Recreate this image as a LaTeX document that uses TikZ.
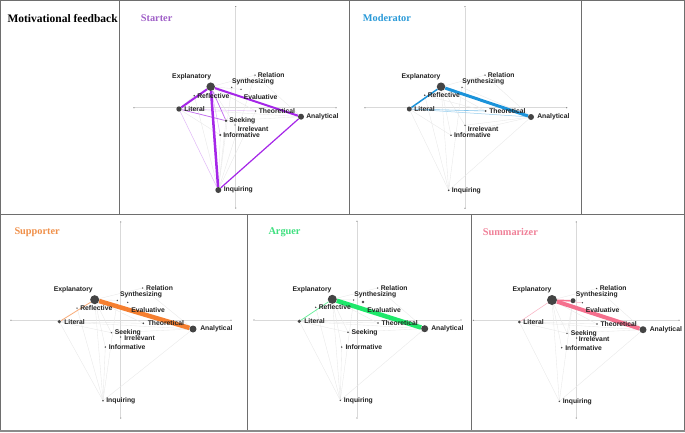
\documentclass[tikz,border=0pt]{standalone}
\usepackage{fontspec}
\setmainfont{Liberation Serif}
\newfontfamily\lblfont{Liberation Sans}
\pgfdeclarelayer{bg}
\pgfdeclarelayer{paper}
\pgfsetlayers{paper,bg,main}
\definecolor{ndark}{HTML}{444444}
\definecolor{ltext}{HTML}{222222}
\definecolor{cstart}{HTML}{A526E8}
\definecolor{tstart}{HTML}{A060C8}
\definecolor{cmod}{HTML}{1B93DA}
\definecolor{tmod}{HTML}{2A9AD8}
\definecolor{csup}{HTML}{F57F30}
\definecolor{tsup}{HTML}{F0904A}
\definecolor{carg}{HTML}{1EE86A}
\definecolor{targ}{HTML}{40E080}
\definecolor{csum}{HTML}{F5708E}
\definecolor{tsum}{HTML}{F08098}
\definecolor{framec}{HTML}{6E6E6E}
\tikzset{
 gdot/.style={circle, fill=ndark, inner sep=0pt, minimum size=#1},
 gdot/.default=2pt,
 lbl/.style={font=\lblfont\bfseries\fontsize{6.8}{8}\selectfont, text=ltext, inner sep=0.6pt, anchor=west},
 clbl/.style={lbl, anchor=center},
 faint/.style={draw=gray!18, line width=0.35pt},
 axisln/.style={draw=gray!30, line width=0.5pt},
 tickdot/.style={circle, fill=gray!80!black, inner sep=0pt, minimum size=1.2pt},
 ptitle/.style={font=\bfseries\fontsize{10.3}{12}\selectfont, anchor=west, inner sep=0pt},
 frameln/.style={draw=framec, line width=0.9pt},
}
\begin{document}
\begin{tikzpicture}[x=1pt,y=-1pt]
\useasboundingbox (0,0) rectangle (685,432);
\begin{pgfonlayer}{paper}
\fill[white] (0,0) rectangle (685,432);
\end{pgfonlayer}
% frames
\draw[frameln] (0.5,0.5) rectangle (684,214);
\draw[frameln] (119,0.5) -- (119,214);
\draw[frameln] (349.5,0.5) -- (349.5,214);
\draw[frameln] (581,0.5) -- (581,214);
\draw[frameln] (0.5,214) rectangle (684,430);
\draw[frameln] (247,214) -- (247,430);
\draw[frameln] (471,214) -- (471,430);
\draw[draw=framec!80, line width=2pt] (0,431) -- (685,431);
% titles
\node[anchor=west, inner sep=0pt, font=\bfseries\fontsize{11.5}{13}\selectfont] (mtitle) at (7.3,18.3) {Motivational feedback};
\node[ptitle, text=tstart] (ttl-a) at (140.7,18.3) {Starter};
\node[ptitle, text=tmod] (ttl-b) at (362.7,18.3) {Moderator};
\node[ptitle, text=tsup] (ttl-c) at (14.3,232) {Supporter};
\node[ptitle, text=targ] (ttl-d) at (268.3,232) {Arguer};
\node[ptitle, text=tsum] (ttl-e) at (482.7,232) {Summarizer};

% ================= Starter =================
\node[tickdot] (a-t) at (235.7,6.7) {};
\node[tickdot] (a-b) at (235.7,208) {};
\node[tickdot] (a-l) at (134,107.7) {};
\node[tickdot] (a-r) at (336,107.7) {};
\node[gdot=8.5pt] (a-Exp) at (210.7,86.7) {};
\node[gdot=5.4pt] (a-Lit) at (179,109) {};
\node[gdot=6pt] (a-Ana) at (301,116.7) {};
\node[gdot=6pt] (a-Inq) at (218.3,190) {};
\node[gdot=2.6pt] (a-See) at (226,120.7) {};
\node[gdot=2.2pt] (a-Inf) at (220.3,135) {};
\node[gdot=1.4pt] (a-Irr) at (235,125) {};
\node[gdot=1.8pt] (a-Ref) at (194.3,95.7) {};
\node[gdot=1.5pt] (a-Syn) at (231.7,87.3) {};
\node[gdot=1.5pt] (a-Eva) at (241,89.3) {};
\node[gdot=1.5pt] (a-Rel) at (255,75.2) {};
\node[gdot=1.5pt] (a-The) at (255.7,111) {};
\node[clbl] (a-Exp-l) at (191.7,76.3) {Explanatory};
\node[lbl] (a-Lit-l) at (183.5,109) {Literal};
\node[lbl] (a-Ana-l) at (305.5,116.7) {Analytical};
\node[lbl] (a-Inq-l) at (223,190) {Inquiring};
\node[lbl] (a-See-l) at (228.5,120.7) {Seeking};
\node[lbl] (a-Inf-l) at (222.5,135) {Informative};
\node[lbl] (a-Irr-l) at (237,129) {Irrelevant};
\node[lbl] (a-Ref-l) at (196.5,95.7) {Reflective};
\node[clbl] (a-Syn-l) at (253,81.6) {Synthesizing};
\node[lbl] (a-Eva-l) at (243,97) {Evaluative};
\node[lbl] (a-Rel-l) at (257,74.8) {Relation};
\node[lbl] (a-The-l) at (258,111) {Theoretical};
\begin{pgfonlayer}{bg}
\draw[axisln] (a-t) -- (a-b);
\draw[axisln] (a-l) -- (a-r);
\foreach \u/\v in {Exp/Rel,Exp/The,Exp/Eva,Lit/Ana,Lit/Inf,See/Inq,Inf/Inq,Ana/See,Rel/Inq,Syn/Inq,Ana/Rel,Ref/Inq,The/Inq,Exp/Irr,Lit/Ref}
  \draw[faint] (a-\u) -- (a-\v);
\draw[cstart!35, line width=0.45pt] (a-Lit) -- (a-Inq);
\draw[cstart!35, line width=0.45pt] (a-Exp) -- (a-Inf);
\draw[cstart!30, line width=0.45pt] (a-Lit) -- (a-The);
\draw[cstart!70, line width=0.7pt] (a-Lit) -- (a-See);
\draw[cstart!70, line width=0.7pt] (a-Exp) -- (a-See);
\draw[cstart, line width=1.2pt] (a-Ana) -- (a-Inq);
\draw[cstart, line width=2pt] (a-Exp) -- (a-Lit);
\draw[cstart, line width=2pt] (a-Exp) -- (a-Ana);
\draw[cstart, line width=2.5pt] (a-Exp) -- (a-Inq);
\end{pgfonlayer}

% ================= Moderator =================
\node[tickdot] (b-t) at (465,6.7) {};
\node[tickdot] (b-b) at (465,208.3) {};
\node[tickdot] (b-l) at (365,107.7) {};
\node[tickdot] (b-r) at (566.7,107.7) {};
\node[gdot=8.5pt] (b-Exp) at (441,86.7) {};
\node[gdot=5pt] (b-Lit) at (409.3,109) {};
\node[gdot=6pt] (b-Ana) at (531,117) {};
\node[gdot=1.8pt] (b-Inq) at (448.7,190.3) {};
\node[gdot=1.8pt] (b-Ref) at (424.7,95.3) {};
\node[gdot=1.5pt] (b-Syn) at (462,87.3) {};
\node[gdot=1.5pt] (b-Rel) at (485,75.2) {};
\node[gdot=2pt] (b-The) at (485.7,111) {};
\node[gdot=1.5pt] (b-Irr) at (465,125.3) {};
\node[gdot=1.8pt] (b-Inf) at (451,135.3) {};
\node[clbl] (b-Exp-l) at (421,76.3) {Explanatory};
\node[lbl] (b-Lit-l) at (413.5,109) {Literal};
\node[lbl] (b-Ana-l) at (536.5,117) {Analytical};
\node[lbl] (b-Inq-l) at (451,190.3) {Inquiring};
\node[lbl] (b-Ref-l) at (427,95.3) {Reflective};
\node[clbl] (b-Syn-l) at (483.3,81.6) {Synthesizing};
\node[lbl] (b-Rel-l) at (487,74.8) {Relation};
\node[lbl] (b-The-l) at (488.5,111) {Theoretical};
\node[lbl] (b-Irr-l) at (467,129) {Irrelevant};
\node[lbl] (b-Inf-l) at (453.3,135.3) {Informative};
\begin{pgfonlayer}{bg}
\draw[axisln] (b-t) -- (b-b);
\draw[axisln] (b-l) -- (b-r);
\foreach \u/\v in {Exp/Inq,Lit/Inq,Ana/Inq,Ref/Inq,Exp/Inf,Exp/The,Exp/Rel,Rel/Ana,Syn/Ana,Irr/Ana,Inf/Ana,Exp/Irr,Lit/Inf,Syn/Inq,Ref/The}
  \draw[faint] (b-\u) -- (b-\v);
\draw[cmod!55, line width=0.6pt] (b-Lit) -- (b-The);
\draw[cmod!45, line width=0.5pt] (b-Lit) -- (b-Ana);
\draw[cmod, line width=1.5pt] (b-Exp) -- (b-Lit);
\draw[cmod, line width=3pt] (b-Exp) -- (b-Ana);
\end{pgfonlayer}

% ================= Supporter =================
\node[tickdot] (c-t) at (120.7,222) {};
\node[tickdot] (c-b) at (120.7,418) {};
\node[tickdot] (c-l) at (11,320.3) {};
\node[tickdot] (c-r) at (231,320.3) {};
\node[gdot=9pt] (c-Exp) at (94.7,299.7) {};
\node[gdot=3.6pt] (c-Lit) at (59.3,321.7) {};
\node[gdot=7pt] (c-Ana) at (193,329) {};
\node[gdot=1.6pt] (c-Inq) at (103,400.7) {};
\node[gdot=1.5pt] (c-Ref) at (77,308) {};
\node[gdot=1.5pt] (c-Syn) at (117.3,300.3) {};
\node[gdot=1.5pt] (c-Eva) at (127.7,302.3) {};
\node[gdot=1.5pt] (c-Rel) at (142.7,288) {};
\node[gdot=1.8pt] (c-The) at (143.3,323.3) {};
\node[gdot=1.5pt] (c-See) at (111.3,332.7) {};
\node[gdot=1.5pt] (c-Irr) at (120.7,337) {};
\node[gdot=1.6pt] (c-Inf) at (105.3,347) {};
\node[clbl] (c-Exp-l) at (73.3,289.3) {Explanatory};
\node[lbl] (c-Lit-l) at (63.5,321.7) {Literal};
\node[lbl] (c-Ana-l) at (199.5,329) {Analytical};
\node[lbl] (c-Inq-l) at (105.5,400.7) {Inquiring};
\node[lbl] (c-Ref-l) at (79.5,308) {Reflective};
\node[clbl] (c-Syn-l) at (141,294.8) {Synthesizing};
\node[lbl] (c-Eva-l) at (130.5,310) {Evaluative};
\node[lbl] (c-Rel-l) at (145.3,287.8) {Relation};
\node[lbl] (c-The-l) at (147,323.3) {Theoretical};
\node[lbl] (c-See-l) at (114,333) {Seeking};
\node[lbl] (c-Irr-l) at (123.5,337.7) {Irrelevant};
\node[lbl] (c-Inf-l) at (108,347) {Informative};
\begin{pgfonlayer}{bg}
\draw[axisln] (c-t) -- (c-b);
\draw[axisln] (c-l) -- (c-r);
\foreach \u/\v in {Exp/Rel,Exp/Syn,Rel/Ana,Lit/The,Lit/Ana,Lit/Inq,Exp/Inq,Exp/See,Exp/Inf,Inq/Ana,Inf/Inq,See/Ana,Ref/Inq,Syn/Inq,Exp/The,Lit/See}
  \draw[faint] (c-\u) -- (c-\v);
\draw[csup!65, line width=0.8pt] (c-Exp) -- (c-Lit);
\draw[csup, line width=4.5pt] (c-Exp) -- (c-Ana);
\end{pgfonlayer}

% ================= Arguer =================
\node[tickdot] (d-t) at (357,221.3) {};
\node[tickdot] (d-b) at (357,418) {};
\node[tickdot] (d-l) at (254,320) {};
\node[tickdot] (d-r) at (461,320) {};
\node[gdot=9pt] (d-Exp) at (332.3,299.3) {};
\node[gdot=3.6pt] (d-Lit) at (299.3,321.3) {};
\node[gdot=7pt] (d-Ana) at (424.7,328.7) {};
\node[gdot=1.6pt] (d-Inq) at (340.3,400.3) {};
\node[gdot=1.6pt] (d-Ref) at (315.7,307.3) {};
\node[gdot=1.5pt] (d-Syn) at (353.7,300) {};
\node[gdot=2.6pt] (d-Eva) at (363,302) {};
\node[gdot=1.5pt] (d-Rel) at (377.7,288) {};
\node[gdot=1.8pt] (d-The) at (378,323) {};
\node[gdot=1.8pt] (d-See) at (348,332.3) {};
\node[gdot=1.6pt] (d-Inf) at (341.7,347) {};
\node[clbl] (d-Exp-l) at (312,289.3) {Explanatory};
\node[lbl] (d-Lit-l) at (303.5,321.3) {Literal};
\node[lbl] (d-Ana-l) at (430.5,328.7) {Analytical};
\node[lbl] (d-Inq-l) at (343,400.3) {Inquiring};
\node[lbl] (d-Ref-l) at (318,307.3) {Reflective};
\node[clbl] (d-Syn-l) at (375.3,294.6) {Synthesizing};
\node[lbl] (d-Eva-l) at (366.5,309.7) {Evaluative};
\node[lbl] (d-Rel-l) at (380,287.8) {Relation};
\node[lbl] (d-The-l) at (380.7,323) {Theoretical};
\node[lbl] (d-See-l) at (350.7,332.3) {Seeking};
\node[lbl] (d-Inf-l) at (344.7,347) {Informative};
\begin{pgfonlayer}{bg}
\draw[axisln] (d-t) -- (d-b);
\draw[axisln] (d-l) -- (d-r);
\foreach \u/\v in {Exp/Rel,Exp/Syn,Rel/Ana,Lit/The,Lit/Ana,Lit/Inq,Exp/Inq,Exp/See,Exp/Inf,Inq/Ana,Inf/Inq,See/Ana,Ref/Inq,Syn/Inq,Exp/The,Lit/See}
  \draw[faint] (d-\u) -- (d-\v);
\draw[carg!65, line width=0.8pt] (d-Exp) -- (d-Lit);
\draw[carg, line width=4.5pt] (d-Exp) -- (d-Ana);
\end{pgfonlayer}

% ================= Summarizer =================
\node[tickdot] (e-t) at (576.3,222) {};
\node[tickdot] (e-b) at (576.3,418) {};
\node[tickdot] (e-l) at (473.3,320.3) {};
\node[tickdot] (e-r) at (679,320.3) {};
\node[gdot=10pt] (e-Exp) at (552,300) {};
\node[gdot=5pt] (e-Syn) at (573,300.7) {};
\node[gdot=1.5pt] (e-Eva) at (582.3,302.7) {};
\node[gdot=1.5pt] (e-Rel) at (596.7,288.5) {};
\node[gdot=3pt] (e-Lit) at (519.3,322) {};
\node[gdot=7pt] (e-Ana) at (643,329.7) {};
\node[gdot=1.6pt] (e-The) at (597,324) {};
\node[gdot=1.6pt] (e-See) at (567,333.3) {};
\node[gdot=1.5pt] (e-Irr) at (576.7,338) {};
\node[gdot=1.6pt] (e-Inf) at (561.7,347.7) {};
\node[gdot=1.6pt] (e-Inq) at (559.3,401.3) {};
\node[clbl] (e-Exp-l) at (532,289.7) {Explanatory};
\node[lbl] (e-Syn-l) at (575,295.2) {Synthesizing};
\node[lbl] (e-Eva-l) at (585,310) {Evaluative};
\node[lbl] (e-Rel-l) at (599,288.2) {Relation};
\node[lbl] (e-Lit-l) at (522.5,322) {Literal};
\node[lbl] (e-Ana-l) at (649,329.7) {Analytical};
\node[lbl] (e-The-l) at (599.7,324) {Theoretical};
\node[lbl] (e-See-l) at (570,333.3) {Seeking};
\node[lbl] (e-Irr-l) at (578,338.6) {Irrelevant};
\node[lbl] (e-Inf-l) at (564.5,347.7) {Informative};
\node[lbl] (e-Inq-l) at (562,401.3) {Inquiring};
\begin{pgfonlayer}{bg}
\draw[axisln] (e-t) -- (e-b);
\draw[axisln] (e-l) -- (e-r);
\foreach \u/\v in {Exp/Rel,Rel/Ana,Lit/The,Lit/Ana,Lit/Inq,Exp/Inq,Exp/See,Exp/Inf,Inq/Ana,Syn/See,See/Ana,Syn/Inq,Exp/The,Lit/See}
  \draw[faint] (e-\u) -- (e-\v);
\draw[csum!55, line width=0.5pt] (e-Exp) -- (e-Lit);
\draw[csum!55, line width=0.5pt] (e-Exp) -- (e-Eva);
\draw[csum, line width=1.3pt] (e-Exp) -- (e-Syn);
\draw[csum, line width=4pt] (e-Exp) -- (e-Ana);
\end{pgfonlayer}
\end{tikzpicture}
\end{document}
